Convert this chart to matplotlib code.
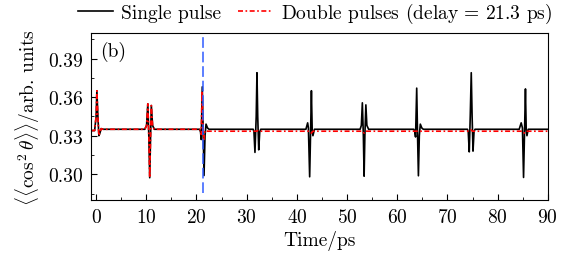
import numpy as np
import matplotlib
matplotlib.use('Agg')
import matplotlib.pyplot as plt
from matplotlib.ticker import MultipleLocator

plt.rcParams['font.family'] = 'serif'
plt.rcParams['font.serif'] = ['cmr10', 'DejaVu Serif']
plt.rcParams['mathtext.fontset'] = 'cm'
plt.rcParams['axes.unicode_minus'] = False
plt.rcParams['axes.formatter.use_mathtext'] = True

# single pulse, key points (time in ps, alignment)
t_single = [-1.0, -0.3, 0.0, 0.15, 0.35, 0.55, 0.75, 1.0, 1.4,
            9.7, 10.05, 10.3, 10.5, 10.68, 10.85, 11.0, 11.25, 11.6,
            20.6, 20.8, 20.95, 21.15, 21.35, 21.5, 21.7, 21.9, 22.2, 22.5,
            31.3, 31.45, 31.65, 31.9, 32.05, 32.2, 32.4, 32.6, 32.8,
            41.8, 42.15, 42.3, 42.55, 42.72, 42.9, 43.05, 43.2, 43.5,
            52.6, 52.85, 53.05, 53.25, 53.4, 53.55, 53.75, 53.95, 54.3,
            63.3, 63.5, 63.65, 63.88, 64.05, 64.22, 64.4, 64.6, 64.9, 65.2,
            74.0, 74.15, 74.35, 74.55, 74.75, 74.92, 75.1, 75.3, 75.5,
            84.3, 84.7, 84.95, 85.17, 85.35, 85.55, 85.7, 85.85, 86.1, 90.0]
v_single = [0.334, 0.334, 0.345, 0.365, 0.345, 0.330, 0.332, 0.3355, 0.335,
            0.335, 0.338, 0.3548, 0.330, 0.2973, 0.330, 0.3535, 0.338, 0.335,
            0.335, 0.333, 0.327, 0.368, 0.330, 0.299, 0.330, 0.339, 0.336, 0.335,
            0.335, 0.333, 0.317, 0.345, 0.379, 0.345, 0.319, 0.333, 0.335,
            0.335, 0.340, 0.336, 0.298, 0.330, 0.365, 0.335, 0.330, 0.335,
            0.335, 0.338, 0.3556, 0.330, 0.2985, 0.330, 0.354, 0.338, 0.335,
            0.335, 0.333, 0.329, 0.367, 0.330, 0.2988, 0.330, 0.339, 0.336, 0.335,
            0.335, 0.333, 0.3174, 0.345, 0.379, 0.345, 0.318, 0.333, 0.335,
            0.335, 0.340, 0.336, 0.2975, 0.330, 0.3664, 0.335, 0.330, 0.335, 0.335]

# double pulses: identical to the single pulse up to the second pulse
n_same = t_single.index(20.6) + 1
t_double = t_single[:n_same] + [20.8, 20.95, 21.1, 21.3, 21.45, 21.7, 22.2,
                                32.0, 32.2, 32.5, 42.6, 42.9, 43.2, 53.1, 53.4, 53.7,
                                74.4, 74.7, 75.0, 85.0, 85.3, 85.6, 90.0]
v_double = v_single[:n_same] + [0.334, 0.331, 0.365, 0.335, 0.327, 0.334, 0.3335,
                                0.3335, 0.334, 0.3335, 0.3335, 0.332, 0.3335, 0.3335, 0.332, 0.3335,
                                0.3335, 0.3345, 0.3335, 0.3335, 0.332, 0.3335, 0.3335]

delay = 21.3

fig = plt.figure(figsize=(5.73, 2.55), dpi=100)
ax = fig.add_axes([0.159, 0.212, 0.797, 0.655])

ax.plot(t_single, v_single, color='black', lw=1.2, label='Single pulse')
ax.plot(t_double, v_double, color='#ff0000', lw=1.2, linestyle=(0, (3, 1.5, 1, 1.5)),
        label=r'Double pulses (delay$\,=\,$21.3 ps)')
ax.vlines(delay, 0.2855, 0.41, color='#2f5bff', lw=1.1, linestyle=(0, (7, 2.5)))

ax.set_xlim(-1, 90)
ax.set_ylim(0.28, 0.41)
ax.xaxis.set_major_locator(MultipleLocator(10))
ax.xaxis.set_minor_locator(MultipleLocator(5))
ax.yaxis.set_major_locator(MultipleLocator(0.03))
ax.yaxis.set_minor_locator(MultipleLocator(0.015))
ax.tick_params(which='both', direction='in', top=False, right=False, labelsize=14)
ax.tick_params(which='major', length=4, pad=6)
ax.tick_params(which='minor', length=2)
ax.set_yticks([0.30, 0.33, 0.36, 0.39])
ax.set_yticklabels(['0.30', '0.33', '0.36', '0.39'])

ax.set_xlabel('Time/ps', fontsize=14, labelpad=3)
ax.set_ylabel(r'$\langle\langle\cos^2\theta\rangle\rangle$/arb. units', fontsize=14, labelpad=4)
ax.text(0.02, 0.95, '(b)', transform=ax.transAxes, va='top', fontsize=14)

fig.legend(loc='center', bbox_to_anchor=(0.55, 0.945), ncol=2, frameon=False,
           fontsize=14, handlelength=1.8, columnspacing=0.9, handletextpad=0.4,
           borderaxespad=0)

fig.savefig('out.png', dpi=100)
